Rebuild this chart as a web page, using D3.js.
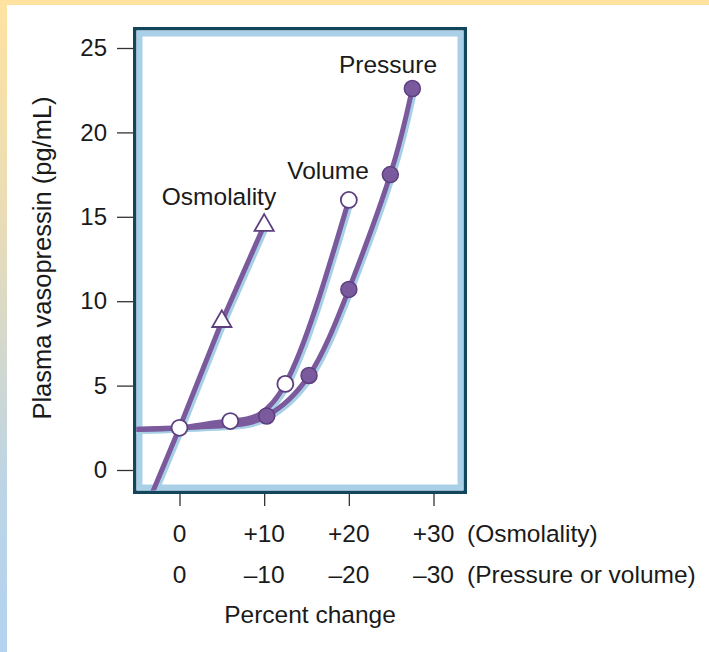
<!DOCTYPE html>
<html>
<head>
<meta charset="utf-8">
<script src="https://cdn.jsdelivr.net/npm/d3@7"></script>
<style>
  body { margin: 0; background: #fff; }
  svg { display: block; font-family: "Liberation Sans", Arial, sans-serif; }
</style>
</head>
<body>
<svg width="709" height="652"></svg>
<script>
// values (percent change vs plasma vasopressin, pg/mL)
var osmoPct = [-3.5, 0, 5, 10];
var osmoVal = [-1.7, 2.5, 8.8, 14.5];
var osmoMarks = [5, 10];

var volumePct = [-6, 0, 6, 12.5, 20];
var volumeVal = [2.4, 2.5, 2.9, 5.1, 16];
var volumeMarks = [0, 6, 12.5, 20];

var pressurePct = [-6, 0, 6, 10.3, 15.3, 20, 24.9, 27.5];
var pressureVal = [2.4, 2.5, 2.65, 3.2, 5.6, 10.7, 17.5, 22.6];
var pressureMarks = [10.3, 15.3, 20, 24.9, 27.5];

var yTicks = [0, 5, 10, 15, 20, 25];
var xTicks = [0, 10, 20, 30];
var osmoTickLabels = ["0", "+10", "+20", "+30"];
var pvTickLabels = ["0", "\u201310", "\u201320", "\u201330"];

var svg = d3.select("svg"),
	width = +svg.attr("width"),
	height = +svg.attr("height");

var purple = "#7a5a9c",
	purpleDark = "#5d3f80",
	shadow = "#a7d0e6",
	frameDark = "#12465c",
	frameLight = "#a9d0e6";

// page background bands
var defs = svg.append("defs");
var grad = defs.append("linearGradient")
	.attr("id", "leftband")
	.attr("x1", 0).attr("y1", 0).attr("x2", 0).attr("y2", 1);
grad.append("stop").attr("offset", "0%").attr("stop-color", "#fee3a0");
grad.append("stop").attr("offset", "35%").attr("stop-color", "#e8dcb8");
grad.append("stop").attr("offset", "75%").attr("stop-color", "#bcd4e6");
grad.append("stop").attr("offset", "100%").attr("stop-color", "#b3d3ef");

svg.append("rect").attr("x", 0).attr("y", 0).attr("width", 7).attr("height", height)
	.attr("fill", "url(#leftband)");
svg.append("rect").attr("x", 0).attr("y", 0).attr("width", width).attr("height", 5)
	.attr("fill", "#fee3a0");

// frame
var fx0 = 133, fy0 = 27, fx1 = 467, fy1 = 494;

var x = d3.scaleLinear().domain([0, 30]).range([179.5, 433.5]);
var y = d3.scaleLinear().domain([0, 25]).range([470, 48]);

svg.append("rect")
	.attr("x", fx0 + 1.75).attr("y", fy0 + 1.75)
	.attr("width", fx1 - fx0 - 3.5).attr("height", fy1 - fy0 - 3.5)
	.attr("fill", "#fff")
	.attr("stroke", frameDark).attr("stroke-width", 3.5);
svg.append("rect")
	.attr("x", fx0 + 6.5).attr("y", fy0 + 6.5)
	.attr("width", fx1 - fx0 - 13).attr("height", fy1 - fy0 - 13)
	.attr("fill", "none")
	.attr("stroke", frameLight).attr("stroke-width", 6);

defs.append("clipPath").attr("id", "plotclip")
	.append("rect")
	.attr("x", fx0 + 3.5).attr("y", fy0 + 3.5)
	.attr("width", fx1 - fx0 - 7).attr("height", fy1 - fy0 - 7);

// axes
var yAxis = svg.append("g")
	.attr("transform", "translate(" + fx0 + ",0)")
	.call(d3.axisLeft(y).tickValues(yTicks).tickSize(16).tickPadding(10));
yAxis.select(".domain").remove();
yAxis.selectAll("line").attr("stroke", "#333").attr("stroke-width", 1.3);
yAxis.selectAll("text").attr("font-size", 24).attr("fill", "#1a1a1a")
	.attr("font-family", "Liberation Sans, Arial, sans-serif");

var xAxis = svg.append("g")
	.attr("transform", "translate(0," + fy1 + ")")
	.call(d3.axisBottom(x).tickValues(xTicks).tickSize(12).tickFormat(""));
xAxis.select(".domain").remove();
xAxis.selectAll("line").attr("stroke", "#333").attr("stroke-width", 1.3);

var labels = svg.append("g").attr("font-size", 24.5).attr("fill", "#1a1a1a");

labels.selectAll(".osmo")
	.data(xTicks)
	.enter().append("text")
	.attr("x", function (d) { return x(d); })
	.attr("y", 542)
	.attr("text-anchor", "middle")
	.text(function (d, i) { return osmoTickLabels[i]; });

labels.selectAll(".pv")
	.data(xTicks)
	.enter().append("text")
	.attr("x", function (d) { return x(d); })
	.attr("y", 583)
	.attr("text-anchor", "middle")
	.text(function (d, i) { return pvTickLabels[i]; });

labels.append("text").attr("x", 467).attr("y", 542).text("(Osmolality)");
labels.append("text").attr("x", 467).attr("y", 583).text("(Pressure or volume)");
labels.append("text").attr("x", 310).attr("y", 623).attr("text-anchor", "middle")
	.text("Percent change");

labels.append("text")
	.attr("transform", "translate(51,258) rotate(-90)")
	.attr("text-anchor", "middle")
	.attr("font-size", 25.5)
	.text("Plasma vasopressin (pg/mL)");

// curves
function pts(px, py) {
	return px.map(function (d, i) { return [d, py[i]]; });
}

var smooth = d3.line()
	.x(function (d) { return x(d[0]); })
	.y(function (d) { return y(d[1]); })
	.curve(d3.curveNatural);
var straight = d3.line()
	.x(function (d) { return x(d[0]); })
	.y(function (d) { return y(d[1]); });

var series = [
	{ gen: straight, data: pts(osmoPct, osmoVal) },
	{ gen: smooth, data: pts(volumePct, volumeVal) },
	{ gen: smooth, data: pts(pressurePct, pressureVal) }
];

var plot = svg.append("g").attr("clip-path", "url(#plotclip)");

plot.selectAll(".shadow")
	.data(series)
	.enter().append("path")
	.attr("class", "shadow")
	.attr("transform", "translate(2.5,2)")
	.attr("d", function (d) { return d.gen(d.data); })
	.attr("fill", "none")
	.attr("stroke", shadow)
	.attr("stroke-width", 5);

plot.selectAll(".curve")
	.data(series)
	.enter().append("path")
	.attr("class", "curve")
	.attr("d", function (d) { return d.gen(d.data); })
	.attr("fill", "none")
	.attr("stroke", purple)
	.attr("stroke-width", 5);

// markers
function valueAt(px, py, p) {
	return py[px.indexOf(p)];
}

svg.append("g").selectAll("path")
	.data(osmoMarks)
	.enter().append("path")
	.attr("transform", function (d) {
		return "translate(" + x(d) + "," + y(valueAt(osmoPct, osmoVal, d)) + ")";
	})
	.attr("d", d3.symbol().type(d3.symbolTriangle).size(160))
	.attr("fill", "#fff")
	.attr("stroke", purpleDark)
	.attr("stroke-width", 1.8);

svg.append("g").selectAll("circle")
	.data(volumeMarks)
	.enter().append("circle")
	.attr("cx", function (d) { return x(d); })
	.attr("cy", function (d) { return y(valueAt(volumePct, volumeVal, d)); })
	.attr("r", 8)
	.attr("fill", "#fff")
	.attr("stroke", purpleDark)
	.attr("stroke-width", 1.8);

svg.append("g").selectAll("circle")
	.data(pressureMarks)
	.enter().append("circle")
	.attr("cx", function (d) { return x(d); })
	.attr("cy", function (d) { return y(valueAt(pressurePct, pressureVal, d)); })
	.attr("r", 8)
	.attr("fill", purple)
	.attr("stroke", purpleDark)
	.attr("stroke-width", 1.5);

// series names
var names = svg.append("g").attr("font-size", 24.5).attr("fill", "#1a1a1a");
names.append("text").attr("x", 388).attr("y", 73).attr("text-anchor", "middle").text("Pressure");
names.append("text").attr("x", 328).attr("y", 179).attr("text-anchor", "middle").text("Volume");
names.append("text").attr("x", 219).attr("y", 205).attr("text-anchor", "middle").text("Osmolality");
</script>
</body>
</html>
